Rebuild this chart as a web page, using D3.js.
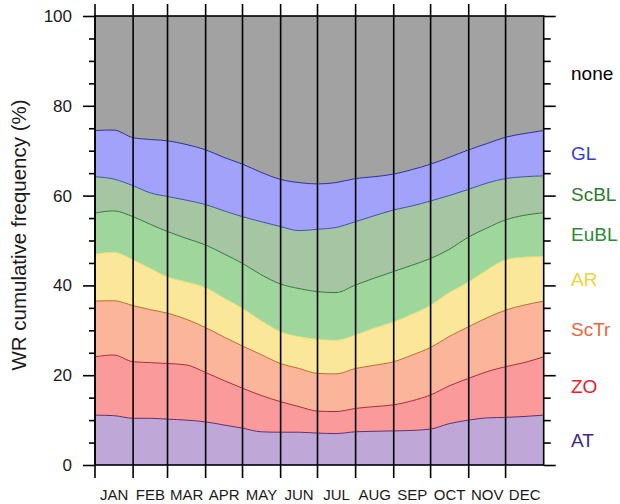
<!DOCTYPE html>
<html>
<head>
<meta charset="utf-8">
<script src="https://cdn.jsdelivr.net/npm/d3@7"></script>
<style>
  body { margin: 0; background: #fff; }
  svg { display: block; font-family: "Liberation Sans", Arial, Helvetica, sans-serif; }
</style>
</head>
<body>
<svg id="chart" width="620" height="504"></svg>
<script>
// ─── Data (frequency of each weather regime, % of days) ─────────────────────
const days = [0, 15, 31, 45, 59, 74, 90, 105, 120, 135, 151, 166, 181, 196, 212, 227, 243, 258, 273, 288, 304, 319, 334, 349, 365];
const AT   = [11.1, 11.0, 10.4, 10.4, 10.2, 10.0, 9.6, 8.9, 8.2, 7.4, 7.3, 7.3, 7.1, 7.0, 7.4, 7.5, 7.6, 7.7, 8.0, 9.2, 10.0, 10.5, 10.6, 10.8, 11.1];
const ZO   = [13.0, 13.5, 12.6, 12.4, 12.4, 12.3, 11.0, 9.9, 8.9, 8.1, 6.8, 5.7, 4.9, 4.9, 5.2, 5.5, 5.8, 6.6, 7.6, 8.4, 9.3, 10.3, 11.3, 12.0, 13.0];
const ScTr = [12.4, 12.1, 12.5, 11.8, 11.2, 10.2, 10.0, 9.7, 9.4, 9.1, 8.5, 8.5, 8.4, 8.4, 8.9, 9.2, 9.6, 10.2, 10.6, 11.0, 11.5, 12.0, 12.6, 12.8, 12.4];
const AR   = [10.5, 10.8, 10.2, 9.2, 8.1, 8.3, 8.9, 8.7, 8.4, 7.6, 7.1, 7.1, 7.6, 7.5, 7.5, 8.3, 8.9, 9.1, 9.4, 9.8, 10.0, 10.7, 11.2, 10.7, 10.0];
const EuBL = [9.1, 9.2, 9.6, 9.8, 10.1, 9.7, 9.5, 9.8, 10.0, 10.2, 10.6, 10.7, 10.6, 10.6, 11.1, 11.1, 11.2, 10.9, 10.4, 9.6, 10.0, 9.3, 8.9, 9.3, 9.7];
const ScBL = [8.1, 7.1, 6.9, 7.0, 7.8, 8.5, 9.0, 9.6, 10.4, 11.8, 12.8, 12.9, 13.9, 14.5, 14.1, 13.9, 13.7, 13.2, 12.8, 12.0, 10.6, 10.0, 9.2, 8.6, 8.2];
const GL   = [10.3, 10.9, 10.7, 11.9, 12.4, 12.4, 12.2, 11.9, 11.7, 11.0, 10.5, 10.7, 10.1, 10.0, 9.6, 8.7, 8.0, 8.1, 8.2, 8.5, 8.8, 8.8, 9.2, 9.6, 10.1];
const none = [25.5, 25.4, 27.1, 27.5, 27.8, 28.6, 29.8, 31.5, 33.0, 34.8, 36.4, 37.1, 37.4, 37.1, 36.2, 35.8, 35.2, 34.2, 33.0, 31.5, 29.8, 28.4, 27.0, 26.2, 25.5];

const regimes    = ['AT', 'ZO', 'ScTr', 'AR', 'EuBL', 'ScBL', 'GL', 'none'];
const regimeVals = { AT, ZO, ScTr, AR, EuBL, ScBL, GL, none };

const months      = ['JAN', 'FEB', 'MAR', 'APR', 'MAY', 'JUN', 'JUL', 'AUG', 'SEP', 'OCT', 'NOV', 'DEC'];
const monthStarts = [0, 31, 59, 90, 120, 151, 181, 212, 243, 273, 304, 334, 365];
const yMajor = [0, 20, 40, 60, 80, 100];
const yMinor = [5, 10, 15, 25, 30, 35, 45, 50, 55, 65, 70, 75, 85, 90, 95];

// ─── Styles ────────────────────────────────────────────────────────────────
const FILL = { AT: '#bfa8d8', ZO: '#fa9a9a', ScTr: '#fbb59b', AR: '#fbe79a', EuBL: '#9ed69c', ScBL: '#a6c5a2', GL: '#a2a2fa', none: '#a2a2a2' };
const EDGE = { AT: '#4b3488', ZO: '#b3263a', ScTr: '#c8643a', AR: '#ecd86a', EuBL: '#2f7d3a', ScBL: '#35607a', GL: '#2a2ab8' };
const LABEL = { AT: '#3b2a86', ZO: '#e3202c', ScTr: '#ea6440', AR: '#f1d238', EuBL: '#2c8a34', ScBL: '#2f7a2f', GL: '#3838e0', none: '#000' };

const svg = d3.select('#chart');
const x = d3.scaleLinear().domain([0, 365]).range([95, 543.7]);
const y = d3.scaleLinear().domain([0, 100]).range([465, 16]);

// ── Stacked areas ──────────────────────────────
const rows = days.map((d, i) => {
  const r = { day: d };
  for (const k of regimes) r[k] = regimeVals[k][i];
  return r;
});
const layers = d3.stack().keys(regimes)(rows);

const area = d3.area()
  .x(d => x(d.data.day))
  .y0(d => y(d[0]))
  .y1(d => y(Math.min(100, d[1])))
  .curve(d3.curveMonotoneX);
const line = d3.line()
  .x(d => x(d.data.day))
  .y(d => y(d[1]))
  .curve(d3.curveMonotoneX);

svg.append('g').selectAll('path').data(layers).join('path')
  .attr('d', area)
  .attr('fill', d => FILL[d.key]);

svg.append('g').selectAll('path').data(layers.filter(l => l.key !== 'none')).join('path')
  .attr('d', line)
  .attr('fill', 'none')
  .attr('stroke', d => EDGE[d.key])
  .attr('stroke-width', 1);

// ── Month grid lines (extend past the frame as ticks) ─────────
svg.append('g').selectAll('line').data(monthStarts.slice(0, 12)).join('line')
  .attr('x1', d => x(d)).attr('x2', d => x(d))
  .attr('y1', y(100) - 12).attr('y2', y(0) + 13)
  .attr('stroke', '#000')
  .attr('stroke-width', 1.6);

// ── Frame ──────────────────────────────
svg.append('rect')
  .attr('x', x(0)).attr('y', y(100))
  .attr('width', x(365) - x(0)).attr('height', y(0) - y(100))
  .attr('fill', 'none').attr('stroke', '#000').attr('stroke-width', 1.6);

// ── Y axes ──────────────────────────────
function styleAxis(g) {
  g.select('.domain').remove();
  g.selectAll('line').attr('stroke', '#000').attr('stroke-width', 1.6);
}
svg.append('g').attr('transform', `translate(${x(0)},0)`)
  .call(d3.axisLeft(y).tickValues(yMajor).tickSize(12).tickPadding(11))
  .call(styleAxis)
  .selectAll('text').attr('font-size', 17).attr('fill', '#1a1a1a').attr('font-family', null);
svg.append('g').attr('transform', `translate(${x(0)},0)`)
  .call(d3.axisLeft(y).tickValues(yMinor).tickSize(6).tickFormat(''))
  .call(styleAxis);
svg.append('g').attr('transform', `translate(${x(365)},0)`)
  .call(d3.axisRight(y).tickValues(yMajor).tickSize(12).tickFormat(''))
  .call(styleAxis);
svg.append('g').attr('transform', `translate(${x(365)},0)`)
  .call(d3.axisRight(y).tickValues(yMinor).tickSize(7).tickFormat(''))
  .call(styleAxis);

// ── Month labels ──────────────────────────────
svg.append('g').selectAll('text').data(months).join('text')
  .attr('x', (_, i) => x((monthStarts[i] + monthStarts[i + 1]) / 2))
  .attr('y', 500)
  .attr('text-anchor', 'middle')
  .attr('font-size', 15)
  .attr('fill', '#1a1a1a')
  .text(d => d);

// ── Y title ──────────────────────────────
svg.append('text')
  .attr('transform', 'translate(26,235) rotate(-90)')
  .attr('text-anchor', 'middle')
  .attr('font-size', 20.5)
  .attr('fill', '#1a1a1a')
  .text('WR cumulative frequency (%)');

// ── Regime labels at the band centres of the last day ──────────
svg.append('g').selectAll('text').data(layers).join('text')
  .attr('x', 571)
  .attr('y', d => y((d[d.length - 1][0] + Math.min(100, d[d.length - 1][1])) / 2))
  .attr('dy', '0.36em')
  .attr('font-size', 19)
  .attr('fill', d => LABEL[d.key])
  .text(d => d.key);
</script>
</body>
</html>
